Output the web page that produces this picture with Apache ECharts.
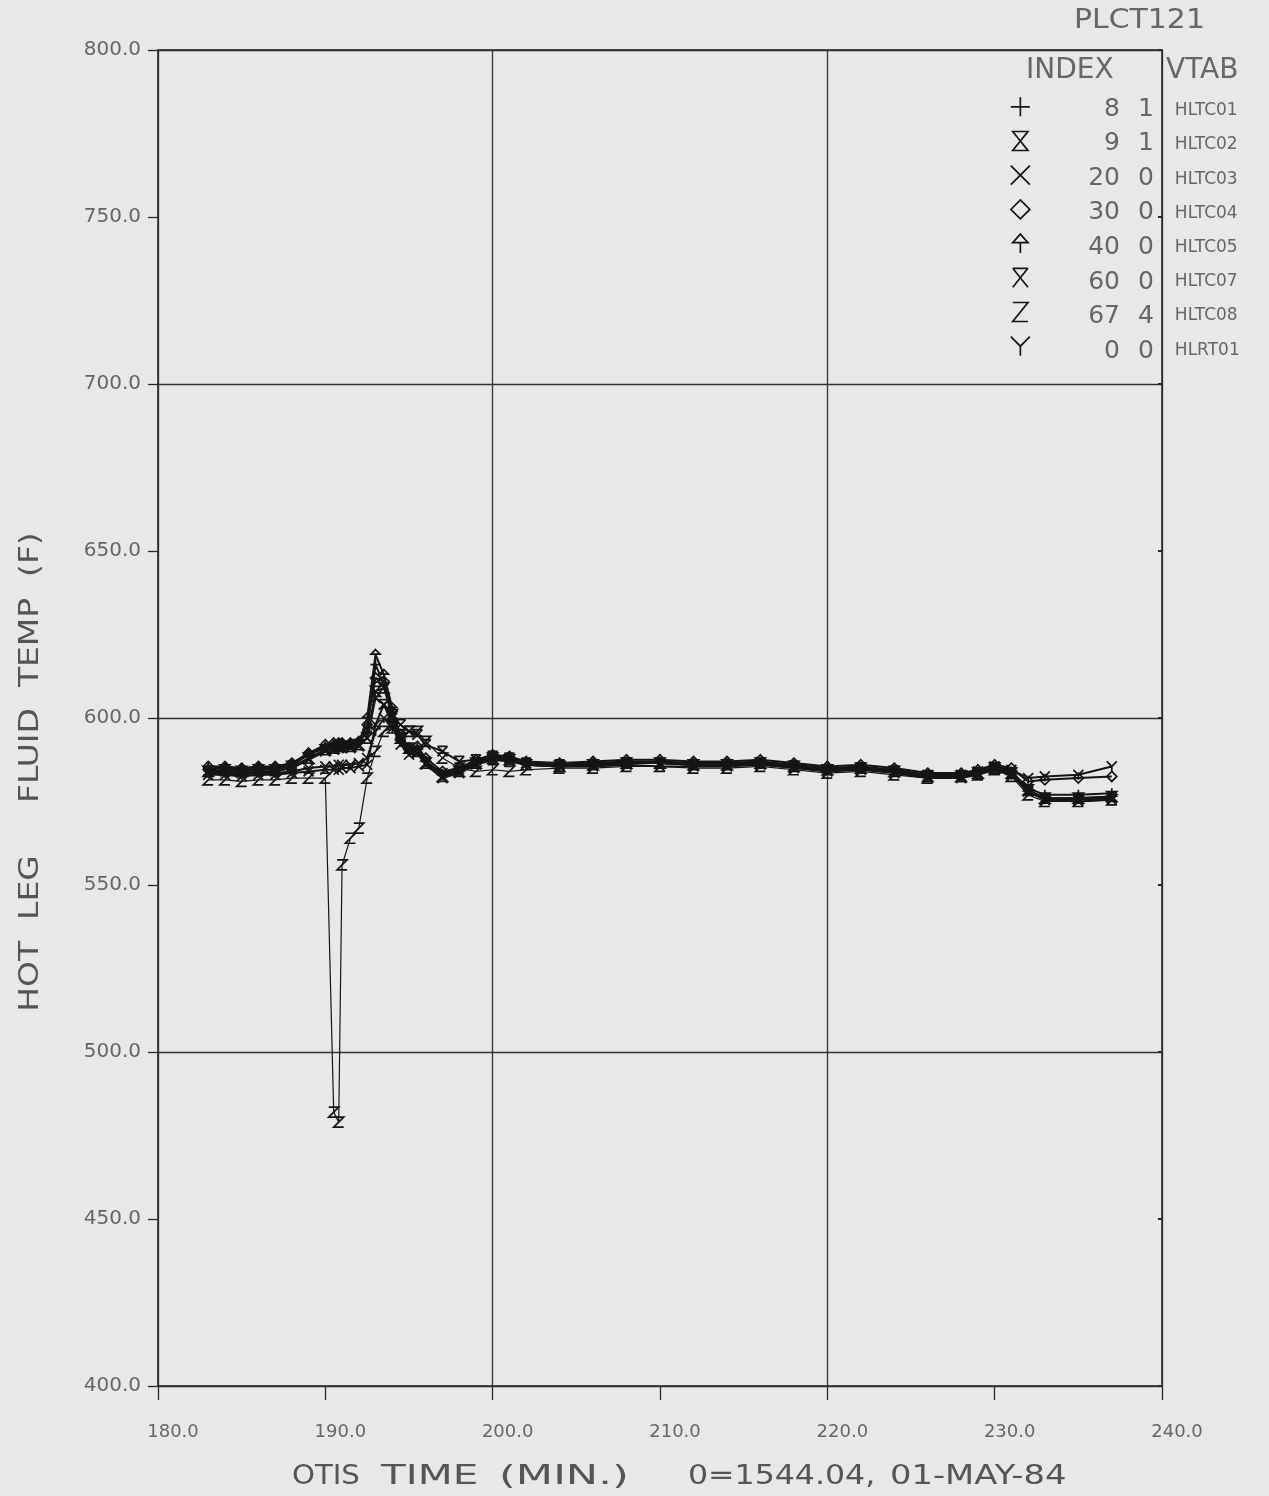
<!DOCTYPE html>
<html><head><meta charset="utf-8">
<script src="https://cdn.jsdelivr.net/npm/echarts@6/dist/echarts.min.js"></script>
<style>html,body{margin:0;padding:0;background:#e8e8e6;}#c{width:1269px;height:1496px;}</style>
</head><body><div id="c"></div>
<script>
// time axis (minutes)
const times = [183,184,185,186,187,188,189,190,190.5,190.8,191,191.5,192,192.5,193,193.5,194,194.5,195,195.5,196,197,198,199,200,201,202,204,206,208,210,212,214,216,218,220,222,224,226,228,229,230,231,232,233,235,237];
const names = ['HLTC01','HLTC02','HLTC03','HLTC04','HLTC05','HLTC07','HLTC08','HLRT01'];
const indexCol = ['8','9','20','30','40','60','67','0'];
const vtabCol = ['1','1','0','0','0','0','4','0'];
const s1 = [585,585,584.5,585,585,586,589,591.5,592,592,592,592,592.5,596,616,610,600,593,590,591,587,583,584.5,587,588.5,588,586.5,586,586.5,587,587,586.5,586.5,587,586,585,585.5,584.5,583,583,584,585.5,584,579,577,577,577.5];
const s2 = [584,584.5,584,584.5,584.5,585.5,588,590.5,591,591.5,591.5,591.5,592,594,608,609,601,594,591,590,586.5,582.5,584,586.5,588,587.5,586,585.5,586,586.5,586.5,586,586,586.5,585.5,584.5,585,584,582.5,582.5,583.5,585,583.5,578.5,576,576,576.5];
const s3 = [583,583,582.5,583,583,583.5,584,584.5,584.5,584.5,585,585,585.5,586,598,604,598,592,589,589.5,586,582,583.5,586,587.5,587,586,585.5,585.5,586,585.5,585.5,585.5,586,585,584,584.5,583.5,582,582,583,584.5,583,578,575.5,575.5,576];
const s4 = [585.5,585.5,585,585.5,585.5,586.5,589.5,592,592.5,592.5,592.5,592.5,593,598,612,611,602,595,591,591.5,588,584,585,587.5,589,588.5,587,586.5,587,587.5,587.5,587,587,587.5,586.5,585.5,586,585,583.5,583.5,584.5,586,585,581,581.5,582,582.5];
const s5 = [584.5,585,584.5,585,585,586,589,591,591.5,592,592,592,592.5,600,619,613,603,594,590.5,590.5,587,583,584,586.5,588,587.5,586,585.5,586,586.5,586.5,586,586,586.5,585.5,584.5,585,584,582.5,582.5,583.5,585,583,578,576,576,576.5];
const s6 = [584,584,583.5,584,584,585,587.5,590,590.5,591,591,591,591.5,594,606,604,600,598,596,595,592,590,587,587.5,588.5,588,586.5,586,586,586.5,586.5,586,586,586.5,585.5,584.5,585,584,582.5,582.5,583.5,585,583.5,578,575.5,575,575.5];
const s7 = [581.5,581.5,581,581.5,581.5,582,582,582,482,479,556,564,567,582,590,596,597,595,596,596,593,588,585,584,584.5,584,584.5,585,585,585.5,585.5,585,585,585.5,584.5,583.5,584,583,582,582.5,583,584.5,582.5,577,575,575,575.5];
const s8 = [583.5,583.5,583,583.5,583.5,584,585,585.5,585.5,586,586,586,586.5,588,596,600,597,593,590,590,587,583.5,584.5,586.5,588,587.5,586,585.5,586,586.5,586.5,586,586,586.5,585.5,584.5,585,584,583,583,584,585.5,584.5,582,582.5,583,585.5];
const seriesValues = [s1,s2,s3,s4,s5,s6,s7,s8];

const symbols = [
  'path://M10,0V20M0,10H20',
  'path://M2,0H18L2,20H18Z',
  'path://M0,0L20,20M20,0L0,20',
  'path://M10,0L20,10L10,20L0,10Z',
  'path://M10,0L18,9H2Z M10,9V20 M1,9H19',
  'path://M2,0H18M2,0L18,20M18,0L2,20',
  'path://M2,0H18L2,20H18',
  'path://M0,0L10,10L20,0M10,10V20'
];
const ink = '#151515';
const grey = '#666';
const F = 'DejaVu Sans';

const series = seriesValues.map((vals, i) => ({
  name: names[i],
  type: 'line',
  xAxisIndex: 0, yAxisIndex: 0,
  data: times.map((t, k) => [t, vals[k]]),
  symbol: symbols[i],
  symbolSize: 10,
  showAllSymbol: true,
  lineStyle: {color: ink, width: i === 6 ? 1.2 : 2},
  itemStyle: {color: 'transparent', borderColor: ink, borderWidth: 1.7},
  emphasis: {disabled: true},
  animation: false,
  z: 3
}));

// legend rows: index / vtab columns
const rowY = i => 109 + i * 34.6;
const colTexts = [];
indexCol.forEach((v, i) => {
  colTexts.push({type: 'text', x: 1120, y: rowY(i), style: {text: v, fontSize: 25, fontFamily: F, fill: grey, align: 'right', verticalAlign: 'middle'}});
  colTexts.push({type: 'text', x: 1154, y: rowY(i), style: {text: vtabCol[i], fontSize: 25, fontFamily: F, fill: grey, align: 'right', verticalAlign: 'middle'}});
});

// x-axis title words: [text, left x, horizontal stretch]
const titleWords = [['OTIS', 292, 1.08], ['TIME', 381, 1.5], ['(MIN.)', 499, 1.6], ['0=1544.04,', 688, 1.17], ['01-MAY-84', 890, 1.25]];
const titleTexts = titleWords.map(w => ({type: 'text', x: w[1], y: 1463, scaleX: w[2],
  style: {text: w[0], fontSize: 27, fontFamily: F, fill: '#555'}}));

const chart = echarts.init(document.getElementById('c'));
chart.setOption({
  backgroundColor: '#e8e8e6',
  animation: false,
  grid: {left: 158, right: 107, top: 50, bottom: 110},
  xAxis: [
    {type: 'value', min: 180, max: 240, interval: 10, position: 'bottom',
     axisLine: {show: true, lineStyle: {color: '#2a2a2a', width: 1.6}},
     axisTick: {show: true, inside: false, length: 14, lineStyle: {color: '#2a2a2a', width: 1.3}},
     axisLabel: {margin: 37, color: grey, fontSize: 18, fontFamily: F, padding: [0,0,0,30],
       formatter: v => v.toFixed(1)},
     splitLine: {show: false}},
    {type: 'value', min: 180, max: 240, interval: 20, position: 'top',
     axisLine: {show: true, lineStyle: {color: '#2a2a2a', width: 1.6}},
     axisTick: {show: false}, axisLabel: {show: false},
     splitLine: {show: true, lineStyle: {color: '#333', width: 1.3}}}
  ],
  yAxis: [
    {type: 'value', min: 400, max: 800, interval: 50, position: 'left',
     axisLine: {show: true, lineStyle: {color: '#2a2a2a', width: 1.6}},
     axisTick: {show: true, inside: false, length: 10, lineStyle: {color: '#2a2a2a', width: 1.3}},
     axisLabel: {margin: 17, color: grey, fontSize: 20, fontFamily: F, verticalAlign: 'middle', padding: [0,0,6,0],
       formatter: v => v.toFixed(1)},
     splitLine: {show: false}},
    {type: 'value', min: 400, max: 800, interval: 100, position: 'right',
     axisLine: {show: true, lineStyle: {color: '#2a2a2a', width: 1.6}},
     axisTick: {show: false}, axisLabel: {show: false},
     splitLine: {show: true, lineStyle: {color: '#333', width: 1.3}}},
    {type: 'value', min: 400, max: 800, interval: 50, position: 'right',
     axisLine: {show: false}, axisLabel: {show: false}, splitLine: {show: false},
     axisTick: {show: true, inside: true, length: 4, lineStyle: {color: '#2a2a2a', width: 2}}}
  ],
  legend: {
    orient: 'vertical', left: 1010, top: 94.3, padding: 0, itemWidth: 19, itemHeight: 19, itemGap: 9.2,
    selectedMode: false,
    data: names.map((n, i) => ({name: n, icon: symbols[i]})),
    itemStyle: {color: 'transparent', borderColor: ink, borderWidth: 1.7},
    lineStyle: {width: 0},
    formatter: name => '{c|' + name + '}',
    textStyle: {
      color: grey,
      rich: {c: {padding: [8,0,0,140], lineHeight: 11, fontSize: 17, fontFamily: F, color: grey}}
    }
  },
  graphic: [
    {type: 'text', x: 1074, y: 8, scaleX: 1.15, style: {text: 'PLCT121', fontSize: 26, fontFamily: F, fill: grey}},
    {type: 'text', x: 1026, y: 57, style: {text: 'INDEX', fontSize: 28, fontFamily: F, fill: grey}},
    {type: 'text', x: 1166, y: 57, style: {text: 'VTAB', fontSize: 28, fontFamily: F, fill: grey}},
    {type: 'text', x: 17, y: 772, rotation: Math.PI / 2, scaleX: 1.22,
     style: {text: 'HOT  LEG     FLUID  TEMP  (F)', fontSize: 27, fontFamily: F, fill: '#555', align: 'center', verticalAlign: 'top'}}
  ].concat(colTexts, titleTexts),
  series: series
});
</script></body></html>
